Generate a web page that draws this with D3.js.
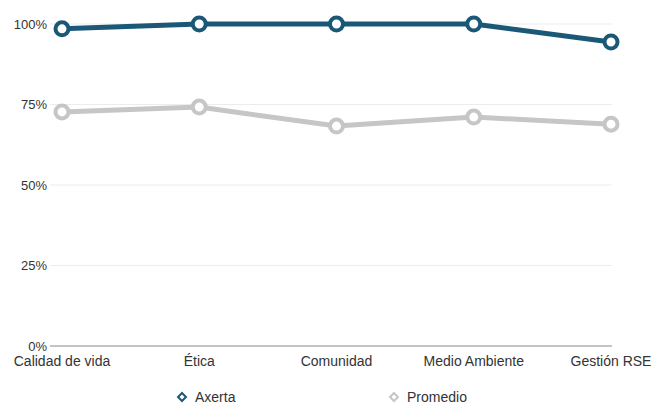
<!DOCTYPE html>
<html><head><meta charset="utf-8">
<script src="https://cdn.jsdelivr.net/npm/d3@7"></script>
<style>body{margin:0;background:#fff}svg{display:block}text{font-family:"Liberation Sans",Arial,sans-serif}</style>
</head><body><svg id="c" width="656" height="405"></svg>
<script>
const categories = ["Calidad de vida","Ética","Comunidad","Medio Ambiente","Gestión RSE"];
const axerta = [98.5,100,100,100,94.4];
const promedio = [72.7,74.2,68.3,71.1,68.9];
const yTicks = [0,25,50,75,100];
const seriesNames = ["Axerta","Promedio"];
const colors = ["#1b5878","#c6c6c6"];

const svg = d3.select("#c");
const x = d3.scalePoint().domain(categories).range([62,611]);
const y = d3.scaleLinear().domain([0,100]).range([346,24]);

svg.append("g").selectAll("line").data(yTicks.filter(d=>d>0)).join("line")
  .attr("x1",50).attr("x2",612).attr("y1",d=>y(d)).attr("y2",d=>y(d))
  .attr("stroke","#ececec").attr("stroke-width",1);
svg.append("line").attr("x1",50).attr("x2",612).attr("y1",y(0)).attr("y2",y(0))
  .attr("stroke","#888").attr("stroke-width",1);

svg.append("g").selectAll("text").data(yTicks).join("text")
  .attr("x",47).attr("y",d=>y(d)).attr("dy","0.35em").attr("text-anchor","end")
  .attr("font-size",13).attr("fill","#333").text(d=>d+"%");

svg.append("g").selectAll("text").data(categories).join("text")
  .attr("x",d=>x(d)).attr("y",366).attr("text-anchor","middle")
  .attr("font-size",14).attr("fill","#333").text(d=>d);

const line = d3.line().x((d,i)=>x(categories[i])).y(d=>y(d));
[promedio, axerta].forEach((data,k)=>{
  const c = k===0 ? colors[1] : colors[0];
  svg.append("path").datum(data).attr("d",line).attr("fill","none")
    .attr("stroke",c).attr("stroke-width",5).attr("stroke-linejoin","round");
  svg.append("g").selectAll("circle").data(data).join("circle")
    .attr("cx",(d,i)=>x(categories[i])).attr("cy",d=>y(d)).attr("r",6.5)
    .attr("fill","#fff").attr("stroke",c).attr("stroke-width",4);
});

const lx = [182,394];
const diamond = d3.symbol().type(d3.symbolDiamond2).size(40);
seriesNames.forEach((n,i)=>{
  svg.append("path").attr("d",diamond()).attr("transform",`translate(${lx[i]},397)`)
    .attr("fill","#fff").attr("stroke",colors[i]).attr("stroke-width",2);
  svg.append("text").attr("x",lx[i]+13).attr("y",397).attr("dy","0.35em")
    .attr("font-size",14).attr("fill","#333").text(n);
});
</script></body></html>
